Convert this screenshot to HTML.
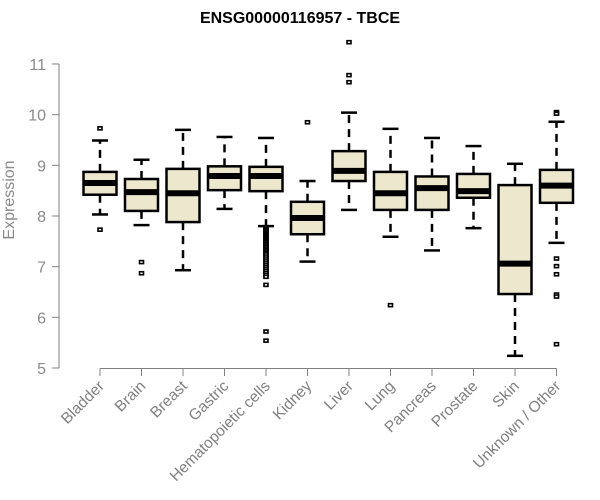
<!DOCTYPE html>
<html><head><meta charset="utf-8"><style>
body{margin:0;background:#fff}
svg{display:block;font-family:"Liberation Sans",Arial,sans-serif}
</style></head><body>
<svg id="chart" width="600" height="500" viewBox="0 0 600 500">
<text x="300" y="23" text-anchor="middle" font-weight="bold" font-size="16">ENSG00000116957 - TBCE</text>
<text transform="translate(14,200) rotate(-90)" text-anchor="middle" font-size="16" fill="#8a8a8a">Expression</text>
<g id="axes"></g>
<g id="boxes"></g>
</svg>
<script>
const categories=["Bladder","Brain","Breast","Gastric","Hematopoietic cells","Kidney","Liver","Lung","Pancreas","Prostate","Skin","Unknown / Other"];
const whiskerLow=[8.03,7.82,6.93,8.14,7.80,7.10,8.12,7.59,7.32,7.76,5.24,7.47];
const q1=[8.42,8.10,7.88,8.51,8.49,7.64,8.69,8.12,8.12,8.36,6.46,8.26];
const median=[8.65,8.47,8.45,8.79,8.79,7.96,8.89,8.45,8.55,8.49,7.06,8.60];
const q3=[8.87,8.73,8.93,8.98,8.97,8.28,9.28,8.87,8.78,8.83,8.61,8.91];
const whiskerHigh=[9.49,9.11,9.70,9.56,9.54,8.69,10.04,9.72,9.54,9.38,9.03,9.86];
const outliers=[[9.73,7.73],[7.09,6.87],[],[],
[7.78,7.75,7.72,7.69,7.66,7.63,7.60,7.57,7.54,7.51,7.48,7.45,7.42,7.39,7.36,7.33,7.30,7.27,7.24,7.20,7.16,7.12,7.08,7.04,7.00,6.96,6.92,6.88,6.84,6.80,6.64,5.72,5.54],
[9.85],[11.43,10.78,10.64],[6.24],[],[],[],[10.05,10.02,7.16,7.01,6.85,6.45,6.41,5.47]];
const yTicks=[5,6,7,8,9,10,11];
const NS="http://www.w3.org/2000/svg";
const y=v=>368-(v-5)*50.67;
const x=i=>100+i*41.5;
function mk(tag,attrs,parent){const e=document.createElementNS(NS,tag);for(const k in attrs)e.setAttribute(k,attrs[k]);parent.appendChild(e);return e;}
const ax=document.getElementById('axes');
const bx=document.getElementById('boxes');
const yl=mk('line',{x1:59,x2:59,y1:y(11),y2:y(5),stroke:'#808080'},ax);


yTicks.forEach(t=>{
 const tk=mk('line',{x1:52,x2:59,y1:y(t),y2:y(t),stroke:'#808080'},ax);
 
 
 const tl=mk('text',{x:46,y:y(t)+6,'text-anchor':'end','font-size':16,fill:'#8a8a8a'},ax);
 tl.textContent=t;
 
 
});
const xl=mk('line',{x1:x(0),x2:x(categories.length-1),y1:368.5,y2:368.5,stroke:'#808080'},ax);


categories.forEach((c,i)=>{
 const cx=x(i);
 const tk=mk('line',{x1:cx,x2:cx,y1:368.5,y2:376,stroke:'#808080'},ax);
 
 
 const tl=mk('text',{x:0,y:0,'text-anchor':'end','font-size':15.5,fill:'#808080',transform:`translate(${cx+5},${387}) rotate(-45)`},ax);
 tl.textContent=c;
 
 
 const g=mk('g',{},bx);
 
 
 const dash={stroke:'#000','stroke-width':2.5,'stroke-dasharray':'8,6'};
 mk('line',Object.assign({x1:cx,x2:cx,y1:y(q3[i]),y2:y(whiskerHigh[i])},dash),g);
 mk('line',Object.assign({x1:cx,x2:cx,y1:y(q1[i]),y2:y(whiskerLow[i])},dash),g);
 mk('line',{x1:cx-8,x2:cx+8,y1:y(whiskerHigh[i]),y2:y(whiskerHigh[i]),stroke:'#000','stroke-width':2.5},g);
 mk('line',{x1:cx-8,x2:cx+8,y1:y(whiskerLow[i]),y2:y(whiskerLow[i]),stroke:'#000','stroke-width':2.5},g);
 mk('rect',{x:cx-16.5,y:y(q3[i]),width:33,height:y(q1[i])-y(q3[i]),fill:'#ede7cd',stroke:'#000','stroke-width':2.5},g);
 mk('line',{x1:cx-16.5,x2:cx+16.5,y1:y(median[i]),y2:y(median[i]),stroke:'#000','stroke-width':6},g);
 outliers[i].forEach(v=>{
  const o=mk('rect',{x:cx-2,y:y(v)-1.5,width:4,height:3,fill:'#fff',stroke:'#000','stroke-width':1.6},g);
  
  
 });
});
</script>
</body></html>
